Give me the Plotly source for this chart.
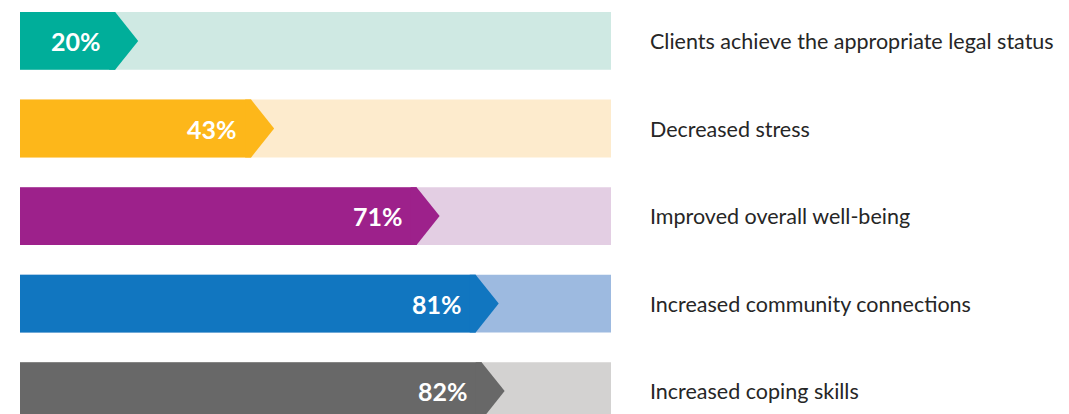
"""Outcome progress arrows: share of clients reporting each outcome."""

import plotly.graph_objects as go

outcomes = [
    "Clients achieve the appropriate legal status",
    "Decreased stress",
    "Improved overall well-being",
    "Increased community connections",
    "Increased coping skills",
]
percent = [20, 43, 71, 81, 82]
bar_colors = ["#00AE9A", "#FDB71A", "#9D218B", "#1176C0", "#686868"]
track_colors = ["#CFE9E3", "#FDEBCD", "#E3CEE3", "#9DBAE0", "#D3D2D1"]

rows = list(range(len(outcomes)))
BAR_H = 0.66
TIP = 3.9  # arrow head depth in axis units

fig = go.Figure()

# light full-length track behind each arrow
fig.add_trace(go.Bar(x=[100] * len(rows), y=rows, orientation="h", width=BAR_H,
                     marker=dict(color=track_colors, line=dict(width=0)), hoverinfo="skip"))
# arrow body
fig.add_trace(go.Bar(x=[p - TIP for p in percent], y=rows, orientation="h", width=BAR_H,
                     marker=dict(color=bar_colors, line=dict(width=0)), hoverinfo="skip"))
# arrow heads (overlap the body slightly so no seam shows)
for r, p, c in zip(rows, percent, bar_colors):
    top, bot = r - BAR_H / 2, r + BAR_H / 2
    fig.add_trace(go.Scatter(
        x=[p - TIP - 1, p - TIP, p, p - TIP, p - TIP - 1, p - TIP - 1],
        y=[top, top, r, bot, bot, top],
        mode="lines", fill="toself", fillcolor=c, line=dict(width=0, color=c), hoverinfo="skip"))

for r, p, name in zip(rows, percent, outcomes):
    fig.add_annotation(x=p, y=r, xref="x", yref="y", text=f"<b>{p}%</b>", showarrow=False,
                       xanchor="right", xshift=-35, font=dict(family="Lato", size=25, color="white"))
    fig.add_annotation(x=1.063, y=r, xref="paper", yref="y", text=name, showarrow=False,
                       xanchor="left", font=dict(family="Lato", size=21.5, color="#262626"))

fig.update_layout(
    width=1069, height=414, showlegend=False, barmode="overlay",
    margin=dict(l=12, r=466, t=0, b=0),
    plot_bgcolor="white", paper_bgcolor="white",
)
fig.update_xaxes(range=[0, 100], visible=False)
fig.update_yaxes(range=[4.354, -0.377], visible=False)

fig.write_html("out.html")
